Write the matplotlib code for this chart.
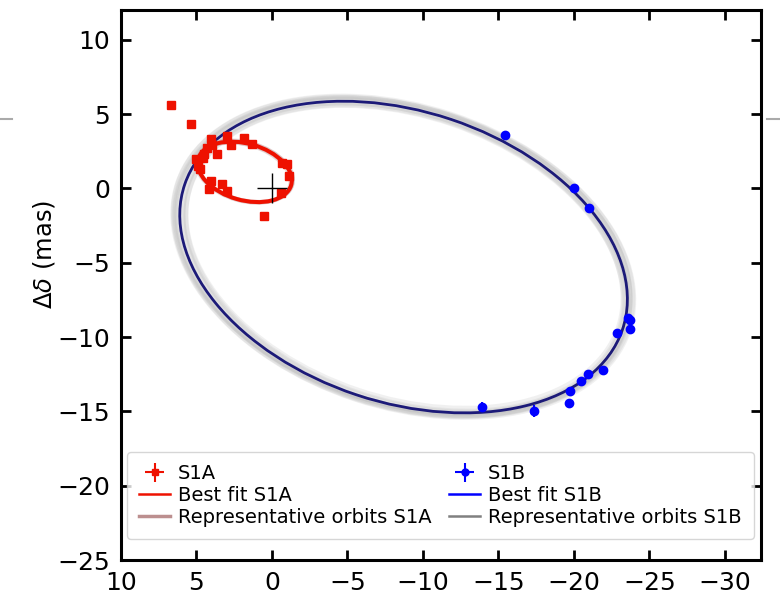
#!/usr/bin/env python3
"""Relative astrometry of S1A / S1B with best-fit and representative orbits."""

import matplotlib
matplotlib.use("Agg")
import matplotlib.pyplot as plt
from matplotlib.lines import Line2D
from matplotlib.patches import Ellipse

# S1A astrometry (mas)
S1A_X = [6.70, 5.33, 4.06, 3.94, 4.27, 2.95, 2.73, 1.86, 1.30, 3.61, 4.50, 5.05,
         4.60, 4.89, 4.76, 4.06, 4.17, 3.28, 3.00, -1.01, -0.68, -1.12, -0.57, 0.53]
S1A_Y = [5.64, 4.36, 3.33, 2.95, 2.73, 3.51, 2.95, 3.40, 3.00, 2.33, 2.28, 2.01,
         2.06, 1.50, 1.28, 0.49, -0.07, 0.27, -0.18, 1.61, 1.72, 0.83, -0.29, -1.86]
S1A_ERR = [0.08] * len(S1A_X)

# S1B astrometry (mas)
S1B_X = [-15.45, -20.03, -21.00, -23.62, -23.69, -23.69, -22.83, -21.95,
         -20.91, -20.47, -19.74, -19.70, -17.37, -13.93]
S1B_Y = [3.56, 0.05, -1.30, -8.72, -8.86, -9.46, -9.75, -12.19,
         -12.46, -12.98, -13.60, -14.47, -14.99, -14.70]
S1B_XERR = [0.08, 0.08, 0.08, 0.10, 0.10, 0.08, 0.10, 0.08,
            0.08, 0.08, 0.08, 0.08, 0.10, 0.10]
S1B_YERR = [0.08, 0.08, 0.08, 0.25, 0.15, 0.08, 0.25, 0.08,
            0.08, 0.08, 0.08, 0.08, 0.40, 0.30]

# projected orbits: (x0, y0, width, height, angle)
BEST_S1A = (1.80, 1.11, 6.40, 3.80, 16.3)
BEST_S1B = (-8.72, -4.62, 30.6, 19.56, 18.7)
REP_S1A = [(1.80, 1.11, 6.55, 3.92, 15.5), (1.85, 1.06, 6.32, 3.74, 17.0),
           (1.77, 1.15, 6.48, 3.88, 16.8), (1.81, 1.09, 6.42, 3.72, 15.8)]
REP_S1B = [(-8.72, -4.62, 31.3, 20.1, 18.2), (-8.80, -4.70, 30.0, 19.1, 19.2),
           (-8.65, -4.55, 31.0, 19.8, 18.0), (-8.75, -4.65, 30.3, 19.3, 19.5),
           (-8.70, -4.60, 31.5, 20.2, 18.6), (-8.78, -4.58, 29.9, 19.0, 18.9),
           (-8.68, -4.66, 30.8, 19.8, 19.0), (-8.60, -4.50, 31.2, 19.9, 18.4),
           (-8.85, -4.75, 30.5, 19.5, 19.3), (-8.72, -4.62, 31.0, 20.0, 18.8)]

RED = "#ee1100"
NAVY = "#1c1a78"


def main():
    fig = plt.figure(figsize=(7.8, 5.96), dpi=100)
    ax = fig.add_axes([121 / 780, 36 / 596, 640 / 780, 550 / 596])

    for x0, y0, w, h, ang in REP_S1B:
        ax.add_patch(Ellipse((x0, y0), w, h, angle=ang, fill=False,
                             ec="0.72", lw=3.5, alpha=0.2))
    x0, y0, w, h, ang = BEST_S1B
    ax.add_patch(Ellipse((x0, y0), w, h, angle=ang, fill=False, ec=NAVY, lw=2.0))

    for x0, y0, w, h, ang in REP_S1A:
        ax.add_patch(Ellipse((x0, y0), w, h, angle=ang, fill=False,
                             ec="rosybrown", lw=2.8, alpha=0.3))
    x0, y0, w, h, ang = BEST_S1A
    ax.add_patch(Ellipse((x0, y0), w, h, angle=ang, fill=False, ec=RED, lw=2.9))

    ax.errorbar(S1A_X, S1A_Y, xerr=S1A_ERR, yerr=S1A_ERR, fmt="s", ms=6.2,
                color=RED, ecolor=RED, elinewidth=1.5, capsize=0, zorder=4)
    ax.errorbar(S1B_X, S1B_Y, xerr=S1B_XERR, yerr=S1B_YERR, fmt="o", ms=6,
                color="blue", ecolor="blue", elinewidth=1.5, capsize=0, zorder=4)
    ax.plot([0], [0], "+", color="black", ms=22, mew=1.0, zorder=5)

    ax.set_xlim(10, -32.4)
    ax.set_ylim(-25, 12)
    ax.set_xticks(range(10, -31, -5))
    ax.set_yticks(range(-25, 11, 5))
    ax.tick_params(direction="in", length=7, width=2, labelsize=18, pad=8,
                   top=True, right=True)
    for sp in ax.spines.values():
        sp.set_linewidth(2.2)
    ax.set_ylabel(r"$\Delta\delta$ (mas)", fontsize=17.5)
    ax.yaxis.set_label_coords(-0.10, 0.555)

    # legend proxies
    h_s1a = ax.errorbar([], [], xerr=[], yerr=[], fmt="s", ms=4, color=RED,
                        elinewidth=1.5, capsize=0)
    h_s1b = ax.errorbar([], [], xerr=[], yerr=[], fmt="o", ms=5, color="blue",
                        elinewidth=1.5, capsize=0)
    handles = [h_s1a,
               Line2D([], [], color=RED, lw=1.8),
               Line2D([], [], color="rosybrown", lw=2.5),
               h_s1b,
               Line2D([], [], color="blue", lw=1.8),
               Line2D([], [], color="gray", lw=1.8)]
    labels = ["S1A", "Best fit S1A", "Representative orbits S1A",
              "S1B", "Best fit S1B", "Representative orbits S1B"]
    ax.legend(handles, labels, ncol=2, loc="lower left", fontsize=14,
              bbox_to_anchor=(0.0094, 0.038), borderaxespad=0,
              labelspacing=0.15, handlelength=1.6, handletextpad=0.4,
              columnspacing=0.9, borderpad=0.62)

    # stray rule marks outside the panel
    for xs in ([0, 12 / 780], [767 / 780, 1]):
        fig.add_artist(Line2D(xs, [1 - 119 / 596] * 2, color="#aaaaaa", lw=1.5))

    fig.savefig("out.png", dpi=100)
    plt.close(fig)


if __name__ == "__main__":
    main()
